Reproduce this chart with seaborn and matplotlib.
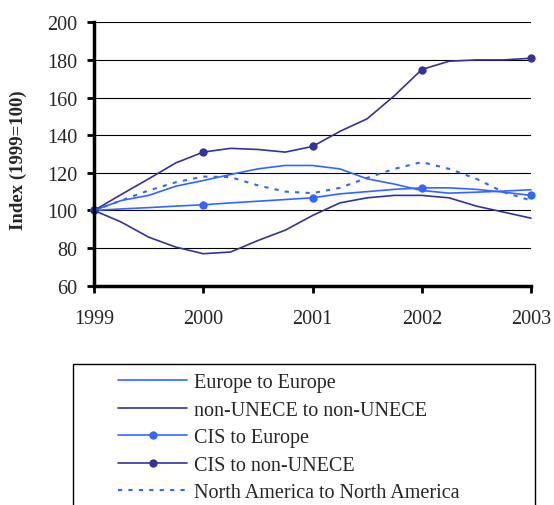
import matplotlib
matplotlib.use('Agg')
import matplotlib.pyplot as plt
import seaborn as sns
from matplotlib.patches import Rectangle

# quarterly points
quarters = [1999.0, 1999.25, 1999.5, 1999.75, 2000.0, 2000.25, 2000.5, 2000.75,
            2001.0, 2001.25, 2001.5, 2001.75, 2002.0, 2002.25, 2002.5, 2002.75, 2003.0]
europe_europe = [100, 105.3, 108, 112.9, 115.9, 119.1, 122.1, 123.9,
                 123.9, 122.1, 116.8, 114, 110.6, 109.2, 109.7, 110.3, 111]
nonunece_nonunece = [100, 93.8, 85.8, 80.5, 77, 77.9, 84, 89.5,
                     97.3, 104, 106.7, 108, 108, 106.7, 102.3, 99.1, 95.9]
cis_europe = [100, 100.8, 101.5, 102.3, 103, 104, 104.9, 105.8,
              106.7, 108.8, 110, 111.2, 112, 112, 111.2, 109.7, 108]
cis_nonunece = [100, 108.5, 116.8, 125.3, 131, 133, 132.4, 131,
                134, 142, 148.7, 161, 174.9, 179.3, 180, 180, 180.9]
na_na = [100, 105.3, 110.6, 115, 118, 117.7, 113.3, 110,
         109.2, 112, 117.3, 122.1, 125.7, 122.1, 116.8, 109.7, 105.3]
year_ticks = [1999, 2000, 2001, 2002, 2003]
labels = ['Europe to Europe', 'non-UNECE to non-UNECE', 'CIS to Europe',
          'CIS to non-UNECE', 'North America to North America']

light = '#3366FF'
dark = '#333399'

sns.set_style('white')
plt.rcParams['font.family'] = ['Liberation Serif', 'DejaVu Serif']

fig = plt.figure(figsize=(5.54, 5.06), dpi=100)
ax = fig.add_axes([0.1697, 0.4334, 0.7888, 0.5206])

ax.set_axisbelow(True)
ax.yaxis.grid(True, color='black', linewidth=0.8)

sns.lineplot(x=quarters, y=europe_europe, color=light, linewidth=1.2, ax=ax,
             label=labels[0], clip_on=False)
sns.lineplot(x=quarters, y=nonunece_nonunece, color=dark, linewidth=1.2, ax=ax,
             label=labels[1], clip_on=False)
sns.lineplot(x=quarters, y=cis_europe, color=light, linewidth=1.2, ax=ax,
             marker='o', markersize=6, markevery=4, markeredgewidth=0,
             label=labels[2], clip_on=False)
sns.lineplot(x=quarters, y=cis_nonunece, color=dark, linewidth=1.2, ax=ax,
             marker='o', markersize=6, markevery=4, markeredgewidth=0,
             label=labels[3], clip_on=False)
sns.lineplot(x=quarters, y=na_na, color=light, linewidth=1.5, ax=ax,
             linestyle=(0, (2, 3)), label=labels[4], clip_on=False)

ax.set_xlim(1999, 2003)
ax.set_ylim(60, 200)
ax.set_xticks(year_ticks)
ax.set_xticklabels([str(y) for y in year_ticks])
ax.set_yticks(range(60, 201, 20))
ax.tick_params(axis='both', labelsize=14.5, length=5, width=2, direction='out',
               color='black', left=True, bottom=True)
ax.tick_params(axis='y', pad=7)
ax.tick_params(axis='x', pad=12)
ax.set_xlabel('')
ax.set_ylabel('Index (1999=100)', fontsize=13.5, fontweight='bold')
ax.yaxis.set_label_coords(-0.153, 0.481)

sns.despine(ax=ax)
for s in ['left', 'bottom']:
    ax.spines[s].set_linewidth(2.5)
    ax.spines[s].set_color('black')

handles, labs = ax.get_legend_handles_labels()
ax.get_legend().remove()
fig.legend(handles, labs, loc='upper left', bbox_to_anchor=(118 / 554, 1 - 374 / 506),
           frameon=False, fontsize=14.5, handlelength=3.45, handletextpad=0.3,
           labelspacing=0.42, borderaxespad=0, borderpad=0, numpoints=1)

fig.patches.append(Rectangle((73 / 554, -0.05), (535 - 73) / 554, 0.05 + 1 - 365 / 506,
                             transform=fig.transFigure, fill=False,
                             edgecolor='black', linewidth=1))

fig.savefig('out.png', dpi=100)
